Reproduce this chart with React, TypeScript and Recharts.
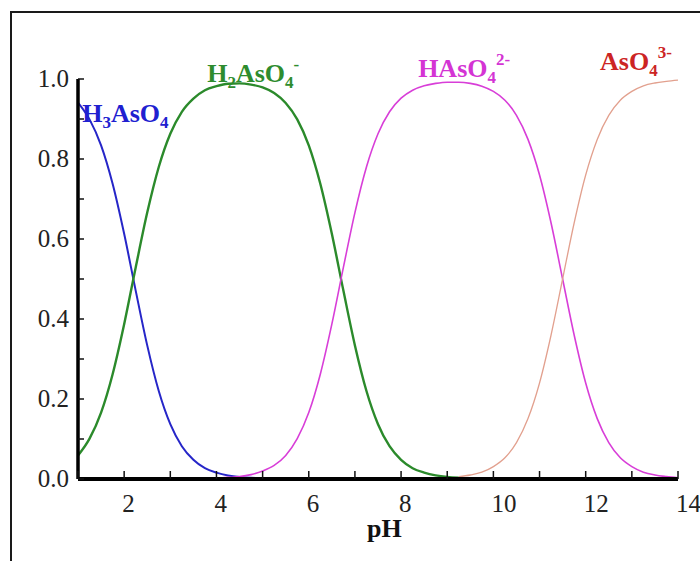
import { LineChart, Line, XAxis, YAxis, ReferenceDot } from "recharts";

const _ = null;

// pH grid, step 0.25
const phValues = [
  1, 1.25, 1.5, 1.75, 2, 2.25, 2.5, 2.75, 3, 3.25, 3.5, 3.75, 4, 4.25, 4.5, 4.75,
  5, 5.25, 5.5, 5.75, 6, 6.25, 6.5, 6.75, 7, 7.25, 7.5, 7.75, 8, 8.25, 8.5, 8.75,
  9, 9.25, 9.5, 9.75, 10, 10.25, 10.5, 10.75, 11, 11.25, 11.5, 11.75, 12, 12.25,
  12.5, 12.75, 13, 13.25, 13.5, 13.75, 14,
];

const h3aso4 = [
  0.941, 0.899, 0.834, 0.738, 0.613, 0.471, 0.334, 0.22, 0.137, 0.082, 0.048, 0.027, 0.016, 0.009, 0.005, 0.003,
  0.002, _, _, _, _, _, _, _, _, _, _, _, _, _, _, _,
  _, _, _, _, _, _, _, _, _, _, _, _, _, _,
  _, _, _, _, _, _, _,
];

const h2aso4 = [
  0.059, 0.101, 0.166, 0.262, 0.387, 0.529, 0.666, 0.78, 0.863, 0.918, 0.951, 0.972, 0.982, 0.988, 0.989, 0.986,
  0.979, 0.965, 0.94, 0.899, 0.834, 0.738, 0.613, 0.471, 0.334, 0.22, 0.137, 0.082, 0.048, 0.027, 0.016, 0.009,
  0.005, 0.003, _, _, _, _, _, _, _, _, _, _, _, _,
  _, _, _, _, _, _, _,
];

const haso4 = [
  _, _, _, _, _, _, _, _, _, _, _, _, 0.002, 0.004, 0.006, 0.011,
  0.02, 0.034, 0.059, 0.101, 0.166, 0.262, 0.387, 0.529, 0.666, 0.78, 0.863, 0.918, 0.952, 0.972, 0.983, 0.989,
  0.992, 0.992, 0.989, 0.982, 0.969, 0.947, 0.909, 0.849, 0.76, 0.64, 0.5, 0.36, 0.24, 0.151,
  0.091, 0.053, 0.031, 0.017, 0.01, 0.006, 0.003,
];

const aso4 = [
  _, _, _, _, _, _, _, _, _, _, _, _, _, _, _, _,
  _, _, _, _, _, _, _, _, _, _, _, _, _, _, _, _,
  _, 0.006, 0.01, 0.017, 0.031, 0.053, 0.091, 0.151, 0.24, 0.36, 0.5, 0.64, 0.76, 0.849,
  0.909, 0.947, 0.969, 0.983, 0.99, 0.994, 0.997,
];

const xTicks = [1, 2, 3, 4, 5, 6, 7, 8, 9, 10, 11, 12, 13, 14];
const xTickLabels = [2, 4, 6, 8, 10, 12, 14];
const yTicks = [0, 0.1, 0.2, 0.3, 0.4, 0.5, 0.6, 0.7, 0.8, 0.9, 1];
const yTickLabels = [0, 0.2, 0.4, 0.6, 0.8, 1];

const data = phValues.map((ph, i) => ({
  pH: ph,
  h3aso4: h3aso4[i],
  h2aso4: h2aso4[i],
  haso4: haso4[i],
  aso4: aso4[i],
}));

const SERIES = [
  { key: "h3aso4", color: "#2626c8", width: 2 },
  { key: "h2aso4", color: "#2b8a2b", width: 2.4 },
  { key: "haso4", color: "#d83ed8", width: 1.6 },
  { key: "aso4", color: "#e2a08e", width: 1.3 },
];

type Part = { t: string; k: "n" | "sub" | "sup" };

// species labels anchored in data coordinates (pH, fraction at baseline)
const LABELS: { x: number; y: number; color: string; parts: Part[] }[] = [
  {
    x: 1.09, y: 0.893, color: "#2020d0",
    parts: [{ t: "H", k: "n" }, { t: "3", k: "sub" }, { t: "AsO", k: "n" }, { t: "4", k: "sub" }],
  },
  {
    x: 3.8, y: 0.993, color: "#2e8c2e",
    parts: [{ t: "H", k: "n" }, { t: "2", k: "sub" }, { t: "AsO", k: "n" }, { t: "4", k: "sub" }, { t: "-", k: "sup" }],
  },
  {
    x: 8.37, y: 1.005, color: "#d434d4",
    parts: [{ t: "HAsO", k: "n" }, { t: "4", k: "sub" }, { t: "2-", k: "sup" }],
  },
  {
    x: 12.31, y: 1.023, color: "#cc2424",
    parts: [{ t: "AsO", k: "n" }, { t: "4", k: "sub" }, { t: "3-", k: "sup" }],
  },
];

const SERIF = "'Liberation Serif', 'Times New Roman', serif";

function ChemLabel({ cx, cy, parts, color }: { cx: number; cy: number; parts: Part[]; color: string }) {
  let offset = 0;
  return (
    <text x={cx} y={cy} fill={color} fontFamily={SERIF} fontWeight="bold" fontSize={26}>
      {parts.map((p, i) => {
        const target = p.k === "sub" ? 6 : p.k === "sup" ? -12 : 0;
        const dy = target - offset;
        offset = target;
        return (
          <tspan key={i} dy={dy} fontSize={p.k === "n" ? 26 : 17}>
            {p.t}
          </tspan>
        );
      })}
    </text>
  );
}

const XTick = (props: any) => {
  const { x, y, payload } = props;
  const show = xTickLabels.includes(payload.value);
  return (
    <g>
      <line x1={x} x2={x} y1={y} y2={y - 8} stroke="#111" strokeWidth={1.5} />
      {show && (
        <text x={x - 2} y={y + 33} textAnchor="start" fontFamily={SERIF} fontSize={25} fill="#222">
          {payload.value}
        </text>
      )}
    </g>
  );
};

const YTick = (props: any) => {
  const { x, y, payload } = props;
  const show = yTickLabels.some((l) => Math.abs(l - payload.value) < 1e-6);
  return (
    <g>
      <line x1={x} x2={x + 6} y1={y} y2={y} stroke="#111" strokeWidth={1.5} />
      {show && (
        <text x={x - 9} y={y + 8} textAnchor="end" fontFamily={SERIF} fontSize={25} fill="#222">
          {Number(payload.value).toFixed(1)}
        </text>
      )}
    </g>
  );
};

export default function App() {
  return (
    <div style={{ position: "absolute", left: 0, top: 0, width: 700, height: 561, background: "#fff", overflow: "hidden" }}>
      <div
        style={{
          position: "absolute",
          left: 10,
          top: 11,
          width: 720,
          height: 600,
          border: "2px solid #1a1a1a",
        }}
      />
      <div style={{ position: "absolute", left: 0, top: 0 }}>
        <LineChart width={700} height={561} data={data} margin={{ top: 79, right: 22, bottom: 42, left: 18 }}>
          <XAxis
            dataKey="pH"
            type="number"
            domain={[1, 14]}
            ticks={xTicks}
            interval={0}
            height={40}
            tickSize={0}
            tickMargin={0}
            tickLine={false}
            axisLine={{ stroke: "#000", strokeWidth: 4 }}
            tick={<XTick />}
            allowDataOverflow
          />
          <YAxis
            type="number"
            domain={[0, 1]}
            ticks={yTicks}
            interval={0}
            width={60}
            tickSize={0}
            tickMargin={0}
            tickLine={false}
            axisLine={{ stroke: "#000", strokeWidth: 3.5 }}
            tick={<YTick />}
            allowDataOverflow
          />
          {SERIES.map((s) => (
            <Line
              key={s.key}
              dataKey={s.key}
              type="monotone"
              stroke={s.color}
              strokeWidth={s.width}
              dot={false}
              activeDot={false}
              isAnimationActive={false}
            />
          ))}
          {LABELS.map((l, i) => (
            <ReferenceDot
              key={i}
              x={l.x}
              y={l.y}
              r={0}
              ifOverflow="visible"
              shape={(p: any) => <ChemLabel cx={p.cx} cy={p.cy} parts={l.parts} color={l.color} />}
            />
          ))}
        </LineChart>
      </div>
      <div
        style={{
          position: "absolute",
          left: 367,
          top: 514,
          fontFamily: SERIF,
          fontWeight: "bold",
          fontSize: 26,
          lineHeight: "30px",
          color: "#111",
        }}
      >
        pH
      </div>
    </div>
  );
}
